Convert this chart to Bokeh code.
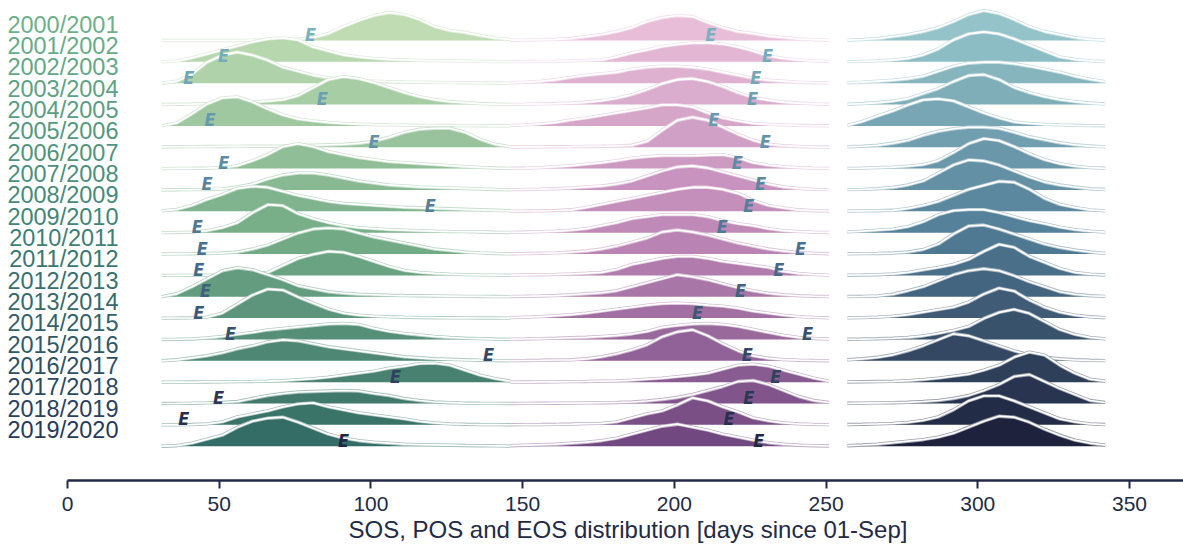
from bokeh.plotting import figure
from bokeh.models import Range1d, FixedTicker, Title
from bokeh.embed import file_html
from bokeh.resources import INLINE
from bokeh.core.properties import value

# ---------------- data ----------------
SEASONS = ["2000/2001", "2001/2002", "2002/2003", "2003/2004", "2004/2005",
           "2005/2006", "2006/2007", "2007/2008", "2008/2009", "2009/2010",
           "2010/2011", "2011/2012", "2012/2013", "2013/2014", "2014/2015",
           "2015/2016", "2016/2017", "2017/2018", "2018/2019", "2019/2020"]

SOS_DAYS = [31, 36, 41, 46, 51, 56, 61, 66, 71, 76, 81, 86, 91, 96, 101, 106,
            111, 116, 121, 126, 131, 136, 141, 146]
POS_DAYS = [146, 151, 156, 161, 166, 171, 176, 181, 186, 191, 196, 201, 206,
            211, 216, 221, 226, 231, 236, 241, 246, 251]
EOS_DAYS = [257, 262, 267, 272, 277, 282, 287, 292, 297, 302, 307, 312, 317,
            322, 327, 332, 337, 342]

# relative density (scaled) per season
SOS_DENS = [
    [0, 0, 0, 0, 0, 0, 0.3, 0.5, 0.8, 1.2, 3, 7, 14, 20, 25, 28, 26, 21, 14, 10, 8, 5, 2.5, 1],
    [0, 1, 4, 8, 12, 16, 20, 23, 24, 22, 15, 11, 7, 5, 3.5, 2.5, 2, 1.5, 1.2, 1, 0.8, 0.5, 0.3, 0.2],
    [0, 2, 9, 21, 28, 31, 28, 23, 16, 12, 8, 5.5, 3.5, 2.5, 2, 1.5, 1.2, 1, 0.8, 0.6, 0.5, 0.3, 0.2, 0.1],
    [0, 0.3, 0.5, 0.8, 1, 1.5, 2.5, 3.5, 5, 9, 17, 25, 28, 26, 22, 17, 12, 8, 5, 3, 2, 1, 0.5, 0.2],
    [0, 3, 12, 22, 28, 29, 24, 17, 11, 7, 5, 3.5, 2.5, 1.8, 1.3, 1, 0.8, 0.6, 0.5, 0.4, 0.3, 0.2, 0.1, 0],
    [0.3, 0.5, 0.6, 0.7, 0.8, 0.9, 1, 1, 1.2, 1.5, 2, 2.5, 3, 4, 6, 10, 15, 18, 19, 19, 15, 8, 3, 0.5],
    [0, 0.2, 0.3, 0.5, 1, 3, 8, 14, 22, 25, 22, 17, 14, 11, 9, 7, 6, 5, 4, 3, 2, 1.2, 0.6, 0.2],
    [0, 0.2, 0.3, 0.5, 1, 3, 6, 11, 15, 17, 17, 15, 12, 9, 7, 5, 4, 3, 2.5, 2, 1.5, 1, 0.5, 0.2],
    [0.5, 2, 6, 12, 17, 23, 25, 24, 20, 16, 13, 10, 8, 7, 6, 5, 4, 3.5, 3, 2.5, 2, 1.5, 1, 0.5],
    [0, 0.2, 0.5, 2, 5, 10, 20, 28, 27, 19, 14, 10, 7, 5, 4, 3, 2.5, 2, 1.5, 1.2, 1, 0.7, 0.4, 0.2],
    [0, 0.2, 0.3, 0.6, 1, 2, 5, 9, 15, 21, 25, 26, 25, 21, 17, 14, 11, 8, 5, 3.5, 2, 1.2, 0.6, 0.2],
    [0, 0, 0.2, 0.3, 0.5, 0.8, 1.2, 3, 10, 17, 21, 24, 23, 19, 14, 9, 5, 3, 2, 1.2, 0.8, 0.5, 0.3, 0.1],
    [0, 3, 10, 18, 26, 29, 27, 22, 17, 11, 8, 5, 3.5, 2.5, 2, 1.5, 1.2, 1, 0.8, 0.6, 0.4, 0.3, 0.2, 0.1],
    [0, 0.1, 0.3, 1, 5, 14, 23, 29, 28, 21, 15, 9, 5, 3, 2, 1.3, 0.9, 0.6, 0.4, 0.3, 0.2, 0.1, 0.1, 0],
    [0, 0.2, 0.5, 1.5, 3, 5, 7, 9.5, 11, 12.5, 14, 15.5, 16, 15, 11, 8, 6, 4.5, 3, 2, 1.2, 0.8, 0.4, 0.2],
    [0, 1, 3, 5, 8, 12, 15, 19, 21, 20, 17, 14, 12, 10, 8, 6, 4, 3, 2, 1.5, 1, 0.6, 0.3, 0.1],
    [0, 0, 0.1, 0.2, 0.3, 0.5, 0.7, 1, 1.5, 2.5, 3.5, 5, 7, 9, 11, 14, 16, 18.5, 19, 17, 12, 7, 3.5, 1],
    [0, 0.1, 0.3, 0.6, 1, 2, 5, 8, 10, 11.5, 12, 12.5, 13, 12.5, 10, 8, 5, 3, 1.5, 0.8, 0.4, 0.2, 0.1, 0],
    [0, 0, 0.3, 1, 3, 8, 11, 14, 18, 21, 22, 18, 15, 12, 10, 8, 6, 3.5, 2, 1, 0.6, 0.3, 0.2, 0.1],
    [0, 0.5, 3, 7, 11, 19, 25, 28, 29, 24, 18, 12, 8, 5.5, 4, 3, 2, 1.6, 1.3, 1, 0.7, 0.5, 0.3, 0.1],
]

POS_DENS = [
    [0.3, 0.5, 0.8, 1.2, 2, 4, 6, 9, 13, 19, 23, 25, 24, 18, 13, 9, 7, 4.5, 3, 1.5, 0.8, 0.3],
    [0.2, 0.3, 0.5, 0.7, 1, 1.5, 2, 5, 9, 12, 15.5, 17.5, 19, 19, 18, 15, 11, 6, 3.5, 2, 1, 0.4],
    [0.5, 1, 2, 3.5, 6, 8, 9.5, 11, 14, 16, 17, 17, 16, 14, 11, 8, 5, 3, 2, 1, 0.5, 0.3],
    [0.2, 0.4, 0.7, 1, 1.5, 2.5, 4, 6.5, 10, 15, 21, 25, 26, 23, 18, 12, 7, 4.5, 2.5, 1.5, 0.7, 0.3],
    [0.5, 1, 2, 3.5, 6, 8, 10.5, 13, 15.5, 18, 21, 21, 19, 13, 8, 5, 2.5, 1.5, 1, 0.6, 0.3, 0.1],
    [0.2, 0.3, 0.4, 0.5, 0.6, 0.8, 1, 1.3, 2, 6, 17, 27, 30, 27, 20, 13, 7, 3, 1.5, 0.8, 0.4, 0.2],
    [0.3, 0.5, 1, 2, 3, 4.5, 6, 8, 10.5, 12, 13, 13, 13, 13.5, 14, 11, 6, 3.5, 2, 1, 0.5, 0.2],
    [0.3, 0.5, 0.8, 1.2, 2, 3, 4, 6, 9, 14, 19, 23, 24, 22, 18, 14, 10, 6, 3, 1.5, 0.6, 0.3],
    [0.2, 0.3, 0.5, 0.8, 1.5, 4, 7, 10, 13, 16, 19, 22, 24, 24, 22, 18, 11, 6, 3.5, 1.5, 0.6, 0.3],
    [0.3, 0.6, 1, 1.5, 2.5, 4, 7, 10, 14, 16, 18, 18, 18, 16, 12, 9, 7, 4, 2, 1, 0.5, 0.2],
    [0.3, 0.5, 0.8, 1.2, 2, 3, 5, 8, 12, 16, 22, 24, 22, 19, 15, 11, 8, 5, 3, 1.5, 0.8, 0.3],
    [0.3, 0.5, 0.7, 1, 1.5, 2.2, 3, 6, 11, 14, 17, 19, 19, 17, 14, 12, 10, 8, 4, 2, 0.8, 0.3],
    [0.3, 0.5, 0.8, 1.2, 2, 3, 4, 6, 10, 14, 18, 22, 20, 17, 13, 9, 6, 3.5, 2, 1, 0.5, 0.2],
    [0.5, 1, 1.5, 2.5, 3.5, 5, 7, 9, 11, 13, 14.5, 15, 14.5, 13, 12, 10, 7, 5, 3, 1.5, 0.7, 0.3],
    [0.3, 0.5, 0.8, 1.2, 1.7, 2.2, 3, 4, 5.5, 8, 12, 14, 15.5, 16, 15, 13, 10, 7, 4, 2, 1, 0.4],
    [0.2, 0.3, 0.5, 0.8, 1, 2, 4, 7, 11, 16, 24, 29, 31, 25, 17, 10, 5, 2.5, 1.2, 0.6, 0.3, 0.1],
    [0, 0.1, 0.2, 0.3, 0.5, 0.7, 1, 1.3, 2, 3, 4, 5.5, 7, 9, 13, 17, 18, 16, 12, 8, 4, 1],
    [0, 0.1, 0.2, 0.3, 0.4, 0.6, 0.8, 1, 1.5, 2.5, 4, 6, 9, 13, 17, 22, 23, 19, 13, 7, 3, 1],
    [0.1, 0.2, 0.3, 0.5, 0.8, 1.2, 1.5, 3, 7, 11, 14, 20, 27, 24, 18, 13, 7, 4, 2, 1, 0.5, 0.2],
    [0.5, 1, 1.5, 2, 3, 4, 5.5, 8, 12, 16, 20, 22, 19, 16, 12, 9, 6, 3.5, 2, 1, 0.5, 0.2],
]

EOS_DENS = [
    [0.3, 1, 2, 4, 6, 9, 13, 19, 26, 30, 27, 21, 14, 9, 6, 3, 1.2, 0.3],
    [0.2, 0.5, 1, 2, 3.5, 7, 13, 22, 28, 30, 28, 23, 17, 11, 5, 2.5, 1, 0.3],
    [0.5, 1, 2, 3, 4.5, 7, 12, 17, 20, 21, 21, 19.5, 17, 14, 11, 7, 4, 1.5],
    [0.3, 1, 2, 3.5, 6, 11, 16, 23, 29, 30, 25, 17, 12, 8, 5, 3, 1.5, 0.5],
    [0.5, 4.5, 10, 15, 21, 26, 27, 25, 19, 13, 8, 4, 2.5, 1.5, 1, 0.6, 0.3, 0.2],
    [0.5, 1, 2, 4, 7, 12, 16, 18.5, 20, 20, 19, 15, 10.5, 7.5, 4.5, 2.5, 1.2, 0.4],
    [0.2, 0.5, 1, 1.5, 2.5, 4, 8, 16, 25, 30, 28, 22, 15, 9, 5, 2.5, 1, 0.3],
    [0.3, 0.6, 1.2, 2.5, 5, 9, 17, 25, 30, 29, 25, 19, 13, 8, 5, 3, 1.2, 0.4],
    [0.2, 0.4, 0.6, 1, 3, 6, 10, 16, 22, 26, 30, 29, 22, 13, 7, 4, 1.5, 0.4],
    [0.8, 1.5, 2.5, 3.5, 6, 11, 18, 22, 23, 23, 20, 16, 12, 9, 5.5, 3, 1.5, 0.5],
    [0.2, 0.4, 0.6, 1, 2, 4.5, 10, 20, 28, 29, 25, 20, 15, 10, 6.5, 4, 2, 0.7],
    [0.2, 0.4, 0.7, 1.5, 3, 5.5, 8, 11, 16, 24, 31, 28, 19, 13, 7, 3, 1.2, 0.4],
    [0.2, 0.4, 0.8, 2.5, 6, 10, 16, 22, 26, 28, 26, 21, 15, 10, 5, 2.5, 1, 0.4],
    [0.2, 0.5, 1, 2, 3.5, 6, 8.5, 11, 16, 24, 30, 27, 18, 11, 6, 3, 1.3, 0.4],
    [0.2, 0.4, 0.7, 1.2, 2, 3.5, 6, 9, 13, 21, 27, 30, 26, 18, 10, 5, 2, 0.6],
    [1, 2, 3.5, 6, 10, 15, 21, 27, 25, 20, 15, 10, 6, 3.5, 2, 1, 0.5, 0.2],
    [0.2, 0.4, 0.6, 0.8, 1.5, 2.5, 4, 6, 8, 12, 17, 25, 30, 27, 17, 9, 3, 1],
    [0.2, 0.4, 0.6, 0.8, 1.2, 2, 3, 5, 8, 13, 19, 27, 29, 22, 15, 9, 3, 1],
    [0.3, 0.6, 1, 1.5, 2.5, 4.5, 8, 15, 24, 29, 29, 24, 18, 12, 6, 3, 1, 0.3],
    [0.5, 1.2, 2, 3.5, 5, 6.5, 9, 13, 19, 25, 30, 29, 24, 17, 11, 6, 3, 1],
]

# position of the season markers (days since 01-Sep)
SOS_MARK = [80.1, 51.4, 40.0, 84.0, 47.0, 101.0, 51.5, 46.0, 119.6, 42.8,
            44.4, 43.3, 45.5, 43.3, 53.7, 138.8, 108.1, 49.8, 38.3, 91.0]
POS_MARK = [212.0, 230.7, 226.8, 225.8, 213.0, 230.0, 220.7, 228.4, 224.5, 215.8,
            241.6, 234.4, 221.8, 207.6, 243.9, 224.0, 233.4, 224.5, 218.0, 227.8]

XTICKS = [0, 50, 100, 150, 200, 250, 300, 350]
XLABEL = "SOS, POS and EOS distribution [days since 01-Sep]"

# ---------------- styles ----------------
NAVY = "#232a45"
ROW_STEP = 21.35
N = len(SEASONS)


def hex2rgb(h):
    h = h.lstrip("#")
    return tuple(int(h[i:i + 2], 16) for i in (0, 2, 4))


def rgb2hex(c):
    return "#%02x%02x%02x" % tuple(int(round(max(0, min(255, v)))) for v in c)


def ramp(stops, n):
    cols = []
    k = len(stops) - 1
    for i in range(n):
        t = i / (n - 1) * k
        j = min(int(t), k - 1)
        f = t - j
        a, b = hex2rgb(stops[j]), hex2rgb(stops[j + 1])
        cols.append(rgb2hex([a[m] + (b[m] - a[m]) * f for m in range(3)]))
    return cols


def lighten(h, f):
    c = hex2rgb(h)
    return rgb2hex([v + (255 - v) * f for v in c])


SOS_COL = ramp(["#bfdcb3", "#74ad87", "#336d66"], N)
POS_COL = ramp(["#e8bdd7", "#bd86b6", "#714880"], N)
EOS_COL = ramp(["#94c4c9", "#527d97", "#1e223d"], N)
MARK_COL = ramp(["#7ab3bf", "#4d7595", "#222744"], N)
LAB_COL = ramp(["#6cb08b", "#3f8377", "#27395a"], N)

X0, X1 = -22.08, 367.8
Y0, Y1 = -34.3, (N - 1) * ROW_STEP + 40

p = figure(width=1183, height=548, x_range=Range1d(X0, X1), y_range=Range1d(Y0, Y1),
           output_backend="svg", toolbar_location=None, y_axis_type=None,
           min_border_left=0, min_border_right=0, min_border_top=0, min_border_bottom=68)
p.outline_line_color = None
p.xgrid.visible = False
p.ygrid.visible = False
p.background_fill_color = "white"
p.border_fill_color = "white"

ax = p.xaxis[0]
ax.ticker = FixedTicker(ticks=XTICKS)
ax.bounds = (0, X1)
ax.axis_line_color = NAVY
ax.axis_line_width = 2.5
ax.major_tick_line_color = NAVY
ax.major_tick_line_width = 2
ax.major_tick_out = 8
ax.major_tick_in = 0
ax.minor_tick_line_color = None
ax.major_label_text_font = "Liberation Sans"
ax.major_label_text_font_size = "21px"
ax.major_label_text_color = NAVY
ax.major_label_standoff = 8

p.add_layout(Title(text=XLABEL, align="left", offset=348, standoff=0,
                   text_font="Liberation Sans", text_font_size="24px",
                   text_font_style="normal", text_color=NAVY), "below")

baselines = [(N - 1 - i) * ROW_STEP for i in range(N)]

# season labels
p.text(x=[16.8] * N, y=[b + 16 for b in baselines], text=SEASONS,
       text_color=LAB_COL, text_font=value("Liberation Sans"), text_font_size="23.5px",
       text_align="right", text_baseline="middle")

# ridges
for i in range(N):
    b = baselines[i]
    for days, dens, col in ((SOS_DAYS, SOS_DENS[i], SOS_COL[i]),
                            (POS_DAYS, POS_DENS[i], POS_COL[i]),
                            (EOS_DAYS, EOS_DENS[i], EOS_COL[i])):
        top = [b + d for d in dens]
        p.varea(x=days, y1=[b] * len(days), y2=top, fill_color=col, fill_alpha=1.0)
        p.line(days, top, line_color=lighten(col, 0.55), line_width=3.4)
        p.line(days, top, line_color="white", line_width=1.7)

# markers
p.text(x=SOS_MARK + POS_MARK, y=[b + 6 for b in baselines] * 2, text=["E"] * (2 * N),
       text_color=MARK_COL + MARK_COL,
       text_font=value("Liberation Sans Narrow, DejaVu Sans Condensed, sans-serif"),
       text_font_size="18px", text_font_style="bold italic",
       text_align="center", text_baseline="alphabetic")

open("out.html", "w").write(file_html(p, INLINE))
